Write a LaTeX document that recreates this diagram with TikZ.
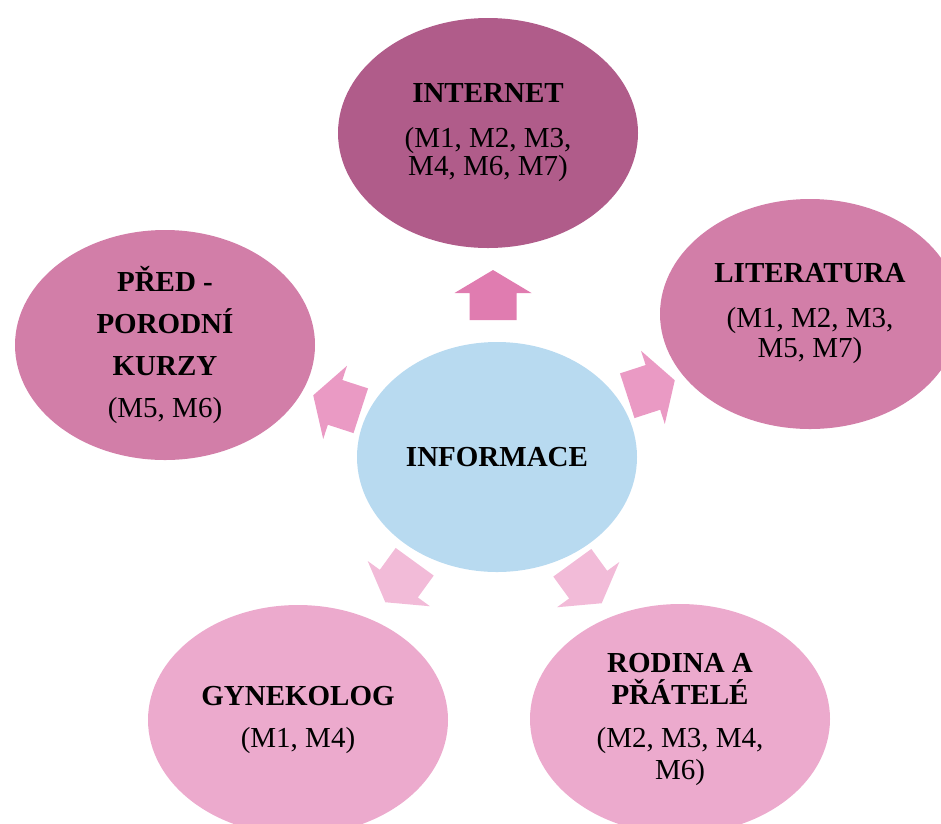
\documentclass[tikz,border=0pt]{standalone}
\usepackage{fontspec}
\setmainfont{Liberation Serif}
\usepackage{tikz}
\usetikzlibrary{shapes}
\definecolor{topmauve}{HTML}{B05C8A}
\definecolor{sidemauve}{HTML}{D27EA8}
\definecolor{lowpink}{HTML}{ECAACD}
\definecolor{infoblue}{HTML}{B8DAF0}
\definecolor{toparrow}{HTML}{E07CB0}
\definecolor{sidearrow}{HTML}{EA9AC4}
\definecolor{lowarrow}{HTML}{F2BBD8}
\tikzstyle{bubble}=[ellipse, align=center, inner sep=0pt, minimum width=300pt, minimum height=230pt]
\tikzstyle{hub}=[ellipse, align=center, inner sep=0pt, fill=infoblue, minimum width=280pt, minimum height=230pt]
\newcommand{\blockarrow}[4]{
 \fill[#4, shift={(#1,#2)}, rotate=#3] (0,-25) -- (38.5,-2) -- (23.5,-2) -- (23.5,25)
   -- (-23.5,25) -- (-23.5,-2) -- (-38.5,-2) -- cycle;}

\begin{document}
\begin{tikzpicture}[x=1pt, y=-1pt, every node/.style = {font=\fontsize{29}{28}\selectfont}]

\clip (0,0) rectangle (941,823);

\node[hub] (info) at (497,457) {\textbf{INFORMACE}};
\node[bubble, fill=topmauve] (internet) at (488,133) {\textbf{INTERNET}\\[17pt] (M1, M2, M3,\\ M4, M6, M7)};
\node[bubble, fill=sidemauve] (lit) at (810,314) {\textbf{LITERATURA}\\[17pt] (M1, M2, M3,\\[2pt] M5, M7)};
\node[bubble, fill=sidemauve] (kurzy) at (165,345) {\textbf{PŘED -}\\[14pt] \textbf{PORODNÍ}\\[14pt] \textbf{KURZY}\\[14pt] (M5, M6)};
\node[bubble, fill=lowpink] (gyn) at (298,720) {\textbf{GYNEKOLOG}\\[14pt] (M1, M4)};
\node[bubble, fill=lowpink] (rodina) at (680,719) {\textbf{RODINA A}\\[4pt] \textbf{PŘÁTELÉ}\\[15pt] (M2, M3, M4,\\[4pt] M6)};

% arrows out of the hub
\blockarrow{493}{295}{0}{toparrow}
\blockarrow{651}{388}{-72}{sidearrow}
\blockarrow{337}{403}{72}{sidearrow}
\blockarrow{587}{583}{-144}{lowarrow}
\blockarrow{400}{582}{144}{lowarrow}

\end{tikzpicture}
\end{document}
